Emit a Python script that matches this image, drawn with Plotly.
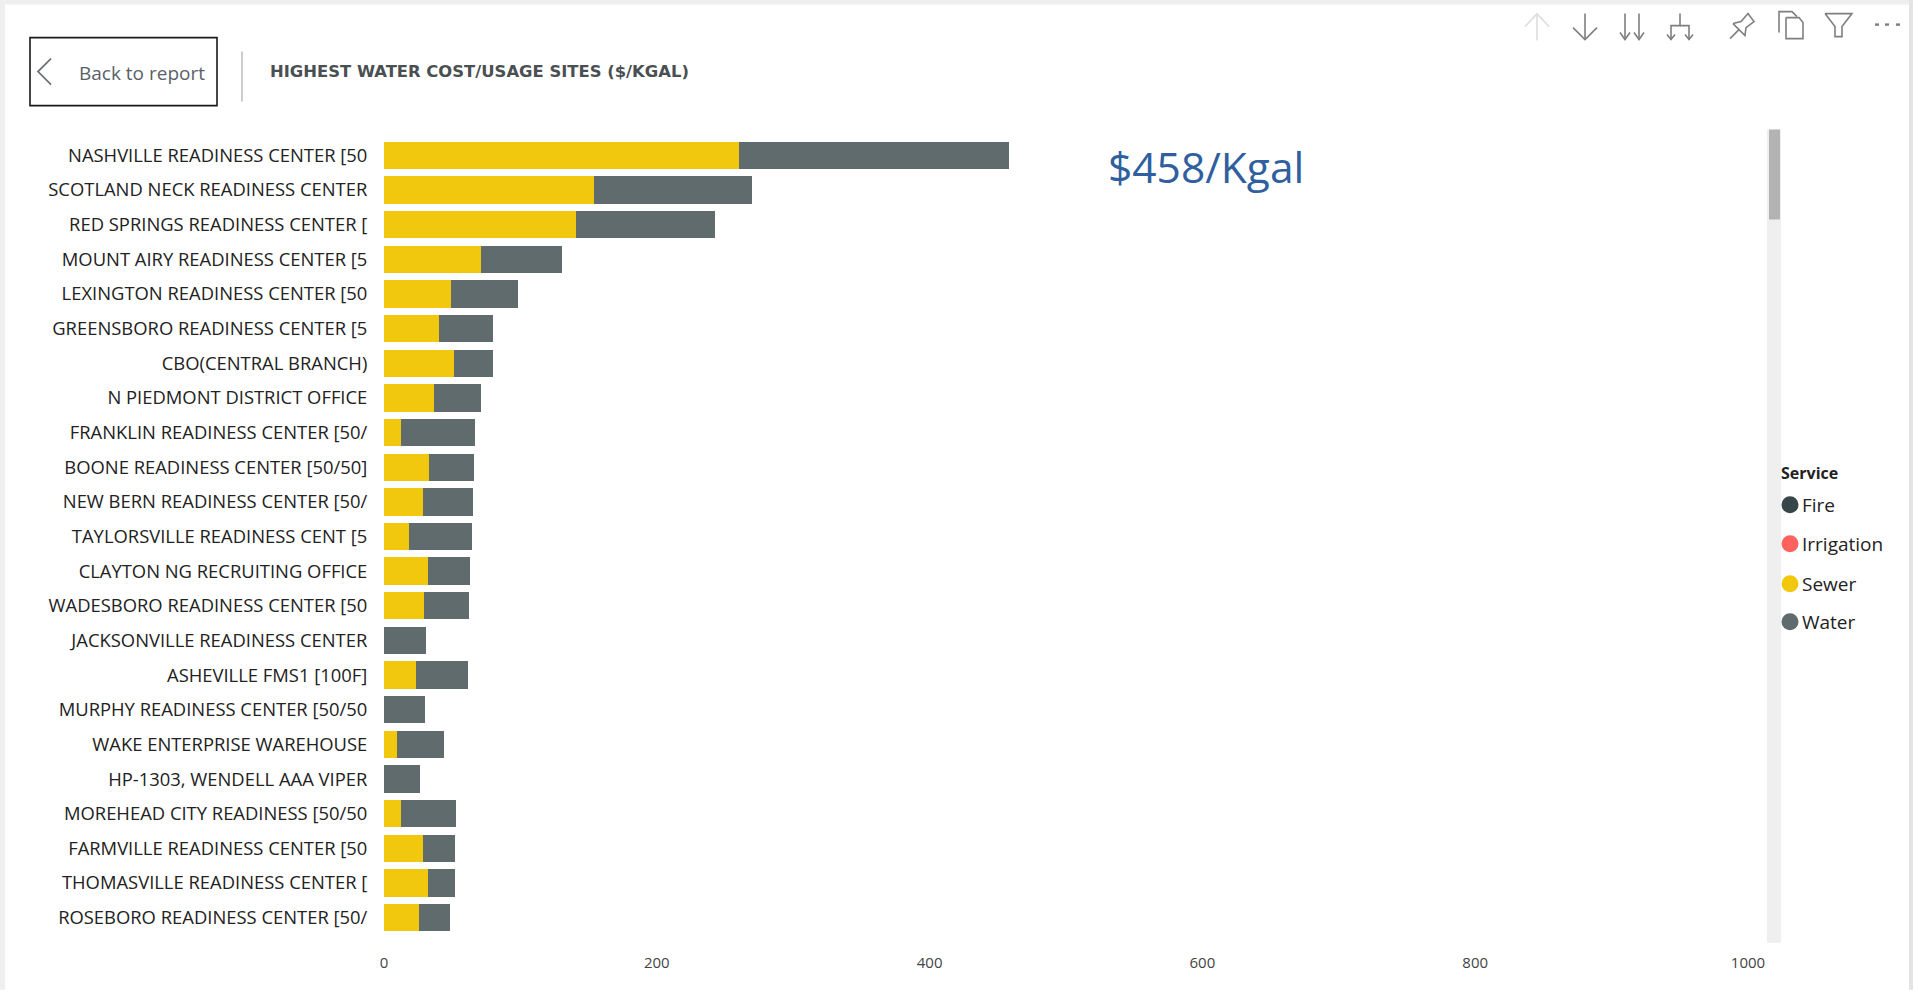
import plotly.graph_objects as go

W, H = 1913, 990
PLOT_L, PLOT_R, PLOT_T, PLOT_B = 384, 1748, 138.4, 935.3

sites = [
    "NASHVILLE READINESS CENTER [50", "SCOTLAND NECK READINESS CENTER", "RED SPRINGS READINESS CENTER [",
    "MOUNT AIRY READINESS CENTER [5", "LEXINGTON READINESS CENTER [50", "GREENSBORO READINESS CENTER [5",
    "CBO(CENTRAL BRANCH)", "N PIEDMONT DISTRICT OFFICE", "FRANKLIN READINESS CENTER [50/",
    "BOONE READINESS CENTER [50/50]", "NEW BERN READINESS CENTER [50/", "TAYLORSVILLE READINESS CENT [5",
    "CLAYTON NG RECRUITING OFFICE", "WADESBORO READINESS CENTER [50", "JACKSONVILLE READINESS CENTER",
    "ASHEVILLE FMS1 [100F]", "MURPHY READINESS CENTER [50/50", "WAKE ENTERPRISE WAREHOUSE",
    "HP-1303, WENDELL AAA VIPER", "MOREHEAD CITY READINESS [50/50", "FARMVILLE READINESS CENTER [50",
    "THOMASVILLE READINESS CENTER [", "ROSEBORO READINESS CENTER [50/",
]
sewer = [260, 154, 140.8, 70.9, 48.9, 40.6, 51.3, 36.4, 12.2, 32.7, 28.8, 18.6,
         32.3, 29.3, 0, 23.5, 0, 9.8, 0, 12.7, 28.8, 32.5, 25.9]
water = [198, 116, 102.2, 59.8, 49.3, 39.6, 28.9, 35, 54.8, 33, 36.4, 45.9,
         30.7, 32.7, 30.8, 38.1, 30, 34.4, 26.4, 40.1, 23.5, 19.3, 22.2]
x_ticks = [0, 200, 400, 600, 800, 1000]
legend_names = ["Fire", "Irrigation", "Sewer", "Water"]
legend_colors = ["#374649", "#FD625E", "#F2C80F", "#5F6B6D"]
callout = "$458/Kgal"
title = "HIGHEST WATER COST/USAGE SITES ($/KGAL)"


def px(x):
    return (x - PLOT_L) / (PLOT_R - PLOT_L)


def py(y):
    return (PLOT_B - y) / (PLOT_B - PLOT_T)


def rect(x0, y0, x1, y1, fill=None, line=None, width=1):
    return dict(type="rect", xref="paper", yref="paper", layer="below",
                x0=px(x0), y0=py(y0), x1=px(x1), y1=py(y1),
                fillcolor=fill or "rgba(0,0,0,0)",
                line=dict(color=line or "rgba(0,0,0,0)", width=width if line else 0))


def stroke(points, color="#7f7f7f", width=1.6):
    # open polyline given in page pixels
    path = "M" + " L".join(f"{px(x):.5f},{py(y):.5f}" for x, y in points)
    return dict(type="path", xref="paper", yref="paper", path=path,
                line=dict(color=color, width=width), fillcolor="rgba(0,0,0,0)")


def label(x, y, text, size, color, anchor="left", family="Open Sans"):
    return dict(xref="paper", yref="paper", x=px(x), y=py(y), text=text, showarrow=False,
                xanchor=anchor, yanchor="middle", align="left", xshift=-1,
                font=dict(family=family, size=size, color=color))


fig = go.Figure()
fig.add_bar(y=sites, x=sewer, name="Sewer", orientation="h", marker_color="#F2C80F", marker_line_width=0)
fig.add_bar(y=sites, x=water, name="Water", orientation="h", marker_color="#5F6B6D", marker_line_width=0)

shapes = [
    # window edges
    rect(0, 0, W, 5, fill="#efefef"),
    rect(0, 0, 5, H, fill="#efefef"),
    rect(1909, 0, W, H, fill="#e4e4e4"),
    # back button and header divider
    rect(30, 38, 217, 106, line="#1a1a1a", width=1.6),
    stroke([(51, 59), (38, 72), (51, 85)], color="#6e7378", width=1.8),
    stroke([(242, 52), (242, 102)], color="#9a9a9a", width=1),
    # scroll bar
    rect(1767, 130, 1781, 943, fill="#efefef"),
    rect(1769, 130, 1780, 220, fill="#b3b3b3"),
    # toolbar icons
    stroke([(1537, 41), (1537, 14)], color="#dedede"),
    stroke([(1525, 27), (1537, 14), (1549, 27)], color="#dedede"),
    stroke([(1585, 14), (1585, 40)]),
    stroke([(1573, 28), (1585, 40), (1597, 28)]),
    stroke([(1625, 14), (1625, 40)]),
    stroke([(1620, 33), (1625, 40), (1630, 33)]),
    stroke([(1639, 14), (1639, 40)]),
    stroke([(1634, 33), (1639, 40), (1644, 33)]),
    stroke([(1680, 14), (1680, 26), (1671, 26), (1671, 40)]),
    stroke([(1680, 26), (1689, 26), (1689, 40)]),
    stroke([(1667, 35), (1671, 40), (1675, 35)]),
    stroke([(1685, 35), (1689, 40), (1693, 35)]),
    stroke([(1730, 39), (1739, 30)]),
    stroke([(1733, 24), (1745, 36), (1746, 28), (1754, 22), (1748, 14), (1741, 22), (1733, 24)]),
    stroke([(1779, 33), (1779, 12), (1792, 12), (1797, 17)]),
    stroke([(1786, 18), (1799, 18), (1803, 23), (1803, 39), (1786, 39), (1786, 18)]),
    stroke([(1825, 14), (1852, 14), (1842, 27), (1842, 37), (1835, 37), (1835, 27), (1825, 14)]),
    stroke([(1875, 25), (1879, 25)], width=2.4),
    stroke([(1885, 25), (1889, 25)], width=2.4),
    stroke([(1896, 25), (1900, 25)], width=2.4),
]

annotations = [
    label(78, 73, "Back to report", 19, "#5a6068"),
    label(269, 72, f"<b>{title}</b>", 16.4, "#4a4f52", family="DejaVu Sans"),
    label(1107, 167, callout, 42.5, "#2f5f9e"),
    label(1780, 473, "<b>Service</b>", 16, "#222222"),
]

# service legend
legend_y = [505, 544, 584, 622]
for name, color, y in zip(legend_names, legend_colors, legend_y):
    shapes.append(dict(type="circle", xref="paper", yref="paper", x0=px(1781.5), x1=px(1798.5),
                       y0=py(y - 8.5), y1=py(y + 8.5), fillcolor=color, line_width=0))
    annotations.append(label(1801, y, name, 19, "#222222"))

fig.update_layout(
    width=W, height=H, barmode="stack", bargap=0.21, showlegend=False,
    paper_bgcolor="white", plot_bgcolor="white",
    margin=dict(l=PLOT_L, r=W - PLOT_R, t=PLOT_T, b=H - PLOT_B, pad=0),
    font=dict(family="Open Sans", size=15, color="#222222"),
    shapes=shapes, annotations=annotations,
    xaxis=dict(range=[0, 1000], tickvals=x_ticks, showgrid=False, zeroline=False, showline=False,
               ticks="outside", ticklen=14, tickcolor="rgba(0,0,0,0)",
               tickfont=dict(size=15, color="#444444")),
    yaxis=dict(autorange="reversed", type="category", showgrid=False, zeroline=False, showline=False,
               ticks="outside", ticklen=12, tickcolor="rgba(0,0,0,0)",
               tickfont=dict(size=18.4, color="#222222")),
)
fig.write_html("out.html")
